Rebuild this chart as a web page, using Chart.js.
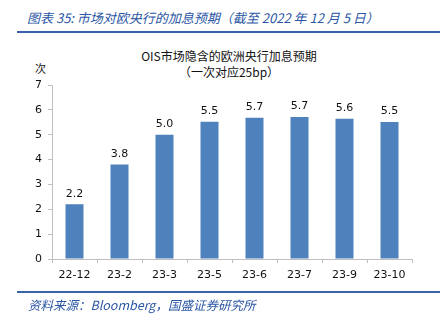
<!DOCTYPE html>
<html>
<head>
<meta charset="utf-8">
<script src="https://cdn.jsdelivr.net/npm/chart.js@4"></script>
<style>
  body { margin: 0; width: 440px; height: 322px; background: #fff; position: relative; overflow: hidden; }
  #wrap { position: absolute; left: 0; top: 0; width: 440px; height: 322px; }
  .txt { position: absolute; white-space: nowrap; font-family: "Noto Sans CJK SC", "DejaVu Sans", sans-serif; }
  #head { left: 27px; top: 8px; font-size: 13px; font-style: italic; color: #2a56a4; }
  #headLine { position: absolute; left: 17px; top: 31px; width: 423px; height: 2px; background: #3b64a8; }
  #footLine { position: absolute; left: 17px; top: 291px; width: 423px; height: 2px; background: #3b64a8; }
  #foot { left: 28px; top: 295px; font-size: 12.5px; font-style: italic; color: #2a56a4; }
  #t1 { left: 0; width: 458px; text-align: center; top: 47px; font-size: 12px; color: #111; }
  #t2 { left: 0; width: 458px; text-align: center; top: 63px; font-size: 12px; color: #111; }
  #unit { left: 35px; top: 60px; font-size: 11px; color: #111; }
</style>
</head>
<body>
<div class="txt" id="head">图表 35:  市场对欧央行的加息预期（截至 2022 年 12 月 5 日）</div>
<div id="headLine"></div>
<div class="txt" id="t1">OIS市场隐含的欧洲央行加息预期</div>
<div class="txt" id="t2">（一次对应25bp）</div>
<div class="txt" id="unit">次</div>
<div id="wrap"><canvas id="myChart" width="440" height="322"></canvas></div>
<div id="footLine"></div>
<div class="txt" id="foot">资料来源：Bloomberg，国盛证券研究所</div>

<script>
let months = ['22-12', '23-2', '23-3', '23-5', '23-6', '23-7', '23-9', '23-10']
let hikes = [2.2, 3.8, 5.0, 5.52, 5.68, 5.71, 5.64, 5.51]
let yTicks = [0, 1, 2, 3, 4, 5, 6, 7]

// draw the value above each bar, one decimal
const barLabels = {
    id: 'barLabels',
    afterDatasetsDraw(chart) {
        let ctx = chart.ctx
        let meta = chart.getDatasetMeta(0)
        ctx.save()
        ctx.font = '11px "DejaVu Sans", sans-serif'
        ctx.fillStyle = '#111'
        ctx.textAlign = 'center'
        ctx.textBaseline = 'bottom'
        meta.data.forEach(function (bar, i) {
            ctx.fillText(hikes[i].toFixed(1), bar.x, bar.y - 5)
        })
        ctx.restore()
    }
}

Chart.defaults.font.family = '"DejaVu Sans", sans-serif'
Chart.defaults.font.size = 11
Chart.defaults.color = '#111'

let currChart = document.getElementById('myChart').getContext('2d')
let barChart = new Chart(currChart, {
    type: 'bar',
    data: {
        labels: months,
        datasets: [{
            data: hikes,
            backgroundColor: '#4f81bd',
            borderWidth: 0,
            barPercentage: 0.4,
            categoryPercentage: 1,
        }]
    },
    options: {
        responsive: false,
        animation: false,
        layout: {
            padding: { left: 0, top: 85, right: 28, bottom: 33 }
        },
        scales: {
            x: {
                afterFit: function (scale) { scale.height = 30 },
                grid: { drawOnChartArea: false, drawTicks: true, tickLength: 4, color: '#bfbfbf', offset: true },
                border: { color: '#bfbfbf' },
                ticks: { padding: 6, maxRotation: 0, autoSkip: false }
            },
            y: {
                min: 0,
                max: 7,
                afterFit: function (scale) { scale.width = 52 },
                afterBuildTicks: function (scale) {
                    scale.ticks = yTicks.map(function (v) { return { value: v } })
                },
                grid: { drawOnChartArea: false, drawTicks: true, tickLength: 4, color: '#bfbfbf' },
                border: { color: '#bfbfbf' },
                ticks: { padding: 6 }
            }
        },
        plugins: {
            legend: { display: false },
            tooltip: { enabled: false }
        }
    },
    plugins: [barLabels]
})
</script>
</body>
</html>
